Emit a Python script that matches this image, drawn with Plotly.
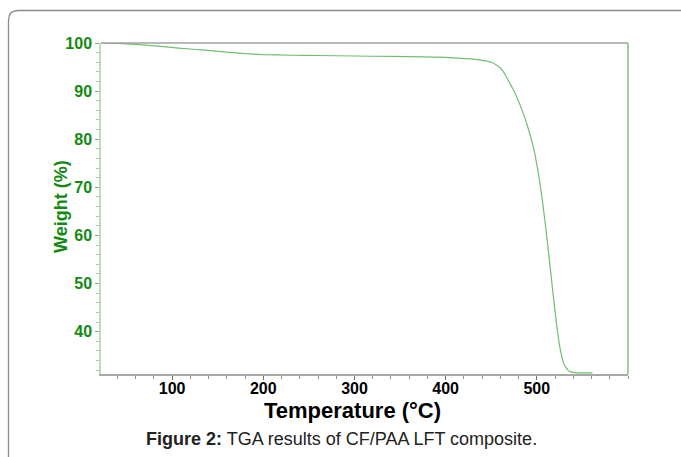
import plotly.graph_objects as go

# Data
temperature = [22, 40, 60, 88, 110, 136, 160, 180, 200, 231, 260, 300, 340, 375, 400,
               426, 440, 450, 456, 460, 463, 466, 470, 476, 481, 486, 490, 494, 498, 502, 506,
               510, 514, 518, 522, 526, 530, 534, 538, 542, 550, 561]
weight = [100.0, 99.9, 99.7, 99.3, 98.9, 98.5, 98.1, 97.8, 97.6, 97.45, 97.4, 97.3, 97.2,
          97.1, 97.0, 96.7, 96.4, 96.0, 95.4, 94.8, 94.1, 93.2, 91.8, 89.6, 87.4, 84.9, 82.6,
          80.0, 76.8, 72.6, 67.4, 61.3, 54.5, 47.5, 41.0, 36.0, 33.2, 32.0, 31.6, 31.5, 31.45, 31.45]

x_ticks = [100, 200, 300, 400, 500]
y_ticks = [40, 50, 60, 70, 80, 90, 100]

W, H = 681, 457
L, R, T, B = 101, 628, 43, 374

def px(xp):
    return (xp - L) / (R - L)

def py(yp):
    return (B - yp) / (B - T)

fig = go.Figure()
fig.add_trace(go.Scatter(x=temperature, y=weight, mode="lines",
                         line=dict(color="#6fbf6f", width=1.2, shape="spline", smoothing=0.3),
                         hoverinfo="skip", showlegend=False))

font_family = "Liberation Sans, Arial, sans-serif"
green = "#128a12"

fig.update_layout(
    width=W, height=H,
    margin=dict(l=L, r=W - R, t=T, b=H - B),
    paper_bgcolor="white", plot_bgcolor="white",
    showlegend=False,
    xaxis=dict(
        range=[22, 600], tickvals=x_ticks, ticktext=[str(v) for v in x_ticks],
        showgrid=False, zeroline=False,
        showline=True, linecolor="#a8a8a8", linewidth=1.5,
        ticks="outside", ticklen=4, tickcolor="#707070", tickwidth=1,
        ticklabelstandoff=-5,
        tickfont=dict(family=font_family, size=16, color="black", weight="bold"),
        minor=dict(dtick=20, tick0=0, ticks="outside", ticklen=3, tickcolor="#909090"),
    ),
    yaxis=dict(
        range=[31.2, 100], tickvals=y_ticks, ticktext=[str(v) for v in y_ticks],
        showgrid=False, zeroline=False,
        showline=True, linecolor="#b9dcb9", linewidth=1.5,
        ticks="outside", ticklen=4, tickcolor="#8aa88a", tickwidth=1,
        tickfont=dict(family=font_family, size=16, color=green, weight="bold"),
        minor=dict(dtick=2, tick0=0, ticks="outside", ticklen=3, tickcolor="#a8c4a8"),
    ),
    shapes=[
        # top frame line
        dict(type="line", xref="paper", yref="paper", x0=0, x1=1, y0=1, y1=1,
             line=dict(color="#a0a0a0", width=1.5)),
        # right frame line
        dict(type="line", xref="paper", yref="paper", x0=1, x1=1, y0=0, y1=1,
             line=dict(color="#7cc27c", width=1.5)),
        # outer rounded border
        dict(type="path", xref="paper", yref="paper",
             path=(f"M {px(8.5)} {py(460)} L {px(8.5)} {py(20)} "
                   f"Q {px(8.5)} {py(10.5)} {px(18)} {py(10.5)} L {px(690)} {py(10.5)}"),
             line=dict(color="#8c8c8c", width=1.3)),
    ],
    annotations=[
        dict(xref="paper", yref="paper", x=px(352), y=py(410), xanchor="center", yanchor="middle",
             showarrow=False, text="<b>Temperature (°C)</b>",
             font=dict(family=font_family, size=22, color="black")),
        dict(xref="paper", yref="paper", x=px(61), y=py(207), xanchor="center", yanchor="middle",
             showarrow=False, textangle=-90, text="<b>Weight (%)</b>",
             font=dict(family=font_family, size=18, color=green)),
        dict(xref="paper", yref="paper", x=px(341), y=py(439), xanchor="center", yanchor="middle",
             showarrow=False,
             text="<b>Figure 2:</b> TGA results of CF/PAA LFT composite.",
             font=dict(family=font_family, size=18, color="#222222")),
    ],
)

fig.write_html("out.html")
